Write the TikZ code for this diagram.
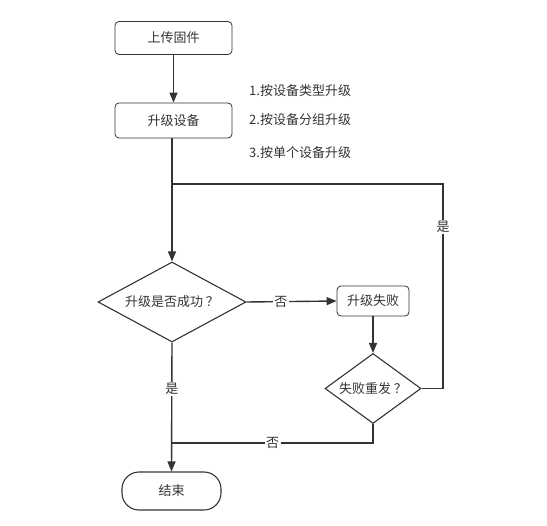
\documentclass[tikz,border=0pt]{standalone}
\usepackage{fontspec}
\setmainfont{Noto Sans CJK SC}
\usetikzlibrary{shapes.geometric,arrows.meta}
\definecolor{ln}{HTML}{333333}
\definecolor{tx}{HTML}{333333}
\tikzset{
  fnt/.style={font=\fontsize{13bp}{15bp}\selectfont},
  box/.style={draw=ln, line width=0.8bp, rounded corners=4bp, minimum width=117bp, minimum height=33bp, inner sep=0pt, text=tx, fnt},
  dec/.style={draw=ln, line width=1.1bp, diamond, aspect=1.85, inner sep=0pt, text=tx, fnt},
  term/.style={draw=ln, line width=1.1bp, rounded corners=17bp, minimum width=99bp, minimum height=38bp, inner sep=0pt, text=tx, fnt},
  note/.style={anchor=west, inner sep=0pt, text=tx, fnt},
  con/.style={draw=ln, line width=1.4bp},
  arr/.style={con, -{Triangle[length=10bp,width=8bp]}},
  lab/.style={fill=white, inner sep=1.5bp, text=tx, fnt},
}
\begin{document}
\begin{tikzpicture}[x=1bp,y=-1bp]
\useasboundingbox (0,0) rectangle (547,526);
\node[box] (upload) at (173.5,38) {上传固件};
\node[box, minimum height=35bp] (upgrade) at (173.5,120.5) {升级设备};
\node[note] (n1) at (249,91) {1.按设备类型升级};
\node[note] (n2) at (249,120) {2.按设备分组升级};
\node[note] (n3) at (249,153) {3.按单个设备升级};
\node[dec, minimum width=148bp, minimum height=80bp] (ok) at (172,302) {升级是否成功\kern3bp？};
\node[box, minimum width=72bp, minimum height=30bp] (fail) at (373,301) {升级失败};
\node[dec, minimum width=96bp, minimum height=70bp] (retry) at (373,388.5) {失败重发\kern3bp？};
\node[term] (end) at (171.5,491) {结束};
\coordinate (m1) at (172,184);
\coordinate (r1) at (443,388.5);
\coordinate (r2) at (443,184);
\coordinate (b1) at (373,443);
\coordinate (b2) at (172,443);
\draw[arr] (upload) -- (upgrade);
\draw[arr] (upgrade.south -| ok.north) -- (ok.north);
\draw[arr] (ok.east) -- node[lab, pos=0.38]{否} (fail.west);
\draw[arr] (fail) -- (retry.north);
\draw[con] (retry.east) -- (r1) -- node[lab, pos=0.79]{是} (r2) -- (m1);
\draw[arr] (ok.south) -- node[lab, pos=0.36]{是} (end.north);
\draw[con] (retry.south) -- (b1) -- node[lab, pos=0.5]{否} (b2);
\end{tikzpicture}
\end{document}
